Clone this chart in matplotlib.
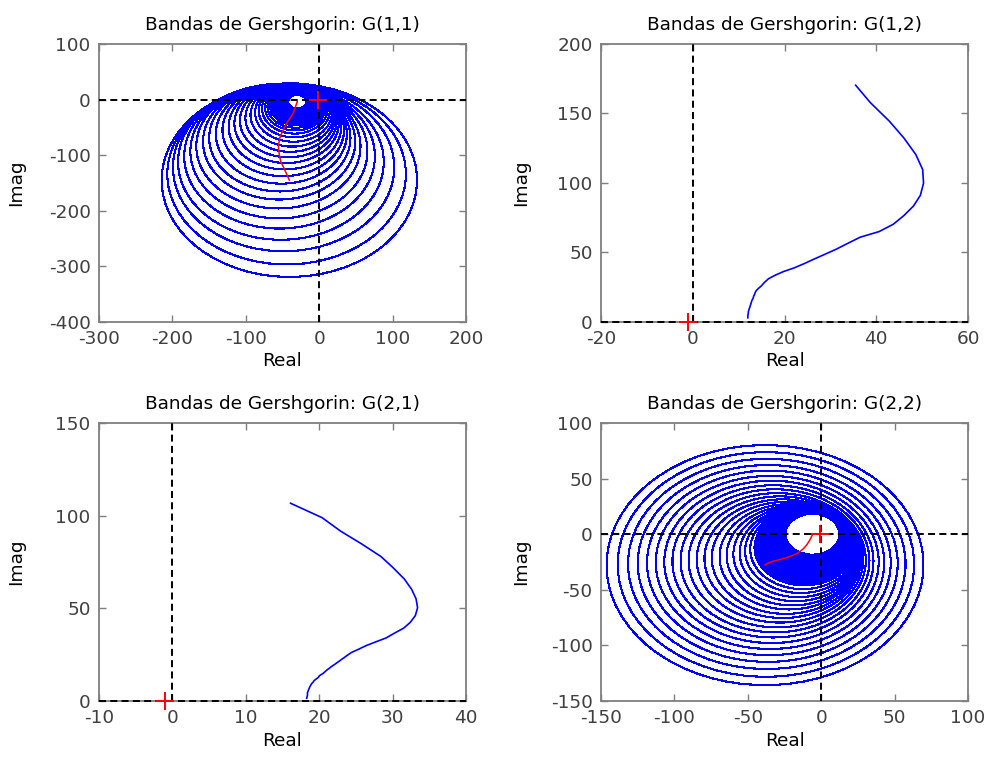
import numpy as np
import matplotlib.pyplot as plt
from matplotlib.patches import Circle

plt.rcParams['font.family'] = 'DejaVu Sans'
plt.rcParams['axes.unicode_minus'] = False

# Nyquist points (same frequency index within each pair)
# pair 1: g11 (circle centres, red) and g12 (radius = |g12|)
g11_re = [-29.9, -29.9, -30.0, -30.0, -30.0, -30.0, -30.1, -30.1, -30.2, -30.2, -30.3,
          -30.3, -30.4, -30.5, -30.6, -30.6, -30.7, -30.8, -30.9, -31.0, -31.2, -31.5,
          -31.8, -32.2, -32.6, -33.2, -34.0, -35.0, -37.0, -39.5, -42.0, -44.5, -46.7,
          -49.0, -51.6, -53.7, -54.6, -55.6, -54.9, -54.0, -52.2, -48.5, -44.4, -40.7]
g11_im = [-3.8, -3.9, -4.0, -4.1, -4.2, -4.4, -4.5, -4.6, -4.8, -5.0, -5.2,
          -5.4, -5.7, -6.0, -6.3, -6.6, -7.0, -7.4, -7.8, -8.2, -8.7, -9.8,
          -11.0, -12.5, -14.2, -16.5, -19.5, -23.5, -28.0, -33.0, -38.0, -43.0, -49.0,
          -55.0, -62.0, -69.0, -76.0, -84.0, -93.0, -102.0, -112.0, -122.0, -134.0, -145.0]
g12_re = [12.0, 12.0, 12.1, 12.1, 12.2, 12.3, 12.4, 12.5, 12.6, 12.7, 12.8,
          12.9, 13.1, 13.2, 13.3, 13.5, 13.6, 13.8, 14.1, 14.5, 14.9, 15.6,
          16.5, 18.0, 19.8, 22.1, 24.3, 26.4, 28.8, 31.3, 33.8, 36.5, 40.6,
          43.7, 46.0, 48.1, 49.6, 50.3, 50.1, 48.6, 46.0, 42.8, 38.7, 35.5]
g12_im = [3.0, 4.9, 6.0, 7.2, 8.4, 9.4, 10.4, 11.4, 12.4, 13.5, 14.6,
          15.6, 16.7, 17.7, 18.9, 20.0, 21.2, 22.4, 23.5, 24.7, 25.8, 28.4,
          31.1, 33.7, 36.3, 38.9, 42.0, 45.2, 48.7, 52.4, 56.6, 61.0, 65.0,
          70.3, 76.5, 83.4, 91.1, 99.9, 109.7, 120.5, 132.4, 144.6, 157.8, 170.3]

# pair 2: g22 (circle centres, red) and g21 (radius = |g21|)
g22_re = [-6.0, -6.1, -6.1, -6.2, -6.2, -6.3, -6.4, -6.5, -6.6, -6.7, -6.8, -6.9,
          -7.0, -7.2, -7.3, -7.4, -7.6, -7.8, -8.1, -8.3, -8.5, -8.8, -9.1, -9.4,
          -9.7, -10.1, -10.5, -11.0, -11.5, -12.6, -14.1, -15.7, -17.6, -19.7, -21.9, -24.2,
          -26.2, -28.1, -30.0, -31.5, -32.9, -33.9, -34.9, -35.7, -36.5, -37.1, -37.7, -38.3]
g22_im = [0.0, -0.2, -0.5, -0.7, -1.0, -1.3, -1.5, -1.8, -2.0, -2.4, -2.6, -3.0,
          -3.3, -3.6, -4.0, -4.3, -4.8, -5.3, -5.8, -6.3, -6.8, -7.4, -8.0, -8.6,
          -9.3, -9.9, -10.6, -11.3, -12.1, -13.6, -15.1, -16.7, -18.0, -19.3, -20.3, -21.3,
          -22.0, -22.7, -23.4, -23.9, -24.4, -24.9, -25.4, -25.8, -26.3, -26.7, -27.2, -27.8]
g21_re = [18.3, 18.4, 18.4, 18.5, 18.6, 18.7, 18.8, 18.9, 19.0, 19.2, 19.3, 19.5,
          19.7, 19.9, 20.0, 20.2, 20.5, 20.7, 20.9, 21.1, 21.4, 21.6, 21.9, 22.2,
          22.5, 22.8, 23.1, 23.4, 23.7, 24.4, 25.4, 26.4, 27.7, 29.1, 30.2, 31.5,
          32.4, 33.1, 33.4, 33.2, 32.6, 31.6, 30.1, 28.4, 25.8, 22.9, 20.4, 16.1]
g21_im = [1.5, 3.1, 4.5, 5.5, 6.5, 7.5, 8.2, 8.9, 9.5, 10.3, 11.0, 11.6,
          12.2, 12.8, 13.5, 14.1, 14.8, 15.5, 16.2, 16.9, 17.7, 18.4, 19.2, 20.0,
          20.9, 21.7, 22.6, 23.4, 24.3, 26.2, 28.0, 29.9, 31.9, 34.0, 36.5, 39.3,
          42.4, 46.1, 50.3, 55.1, 60.2, 65.8, 71.8, 78.0, 84.7, 91.7, 98.9, 106.7]

titles = ['Bandas de Gershgorin: G(1,1)', 'Bandas de Gershgorin: G(1,2)',
          'Bandas de Gershgorin: G(2,1)', 'Bandas de Gershgorin: G(2,2)']
xlims = [(-300, 200), (-20, 60), (-10, 40), (-150, 100)]
ylims = [(-400, 100), (0, 200), (0, 150), (-150, 100)]
xsteps = [100, 20, 10, 50]
ysteps = [100, 50, 50, 50]

fig = plt.figure(figsize=(9.85, 7.59), dpi=100)
boxes = [[0.1005, 0.5758, 0.3726, 0.3663], [0.6102, 0.5758, 0.3726, 0.3663],
         [0.1005, 0.0764, 0.3726, 0.3663], [0.6102, 0.0764, 0.3726, 0.3663]]
axes = [fig.add_axes(b) for b in boxes]

# diagonal elements: Gershgorin circles around the Nyquist curve
r1 = np.hypot(g12_re, g12_im)
r2 = np.hypot(g21_re, g21_im)
for ax, cre, cim, rad in [(axes[0], g11_re, g11_im, r1), (axes[3], g22_re, g22_im, r2)]:
    for x, y, r in zip(cre, cim, rad):
        ax.add_patch(Circle((x, y), r, fill=False, ec='#0000ff', lw=0.8,
                            antialiased=False, zorder=2))
    ax.plot(cre, cim, color='#ff0000', lw=1.1, zorder=4)

# off-diagonal elements: plain Nyquist curves
axes[1].plot(g12_re, g12_im, color='#0000ff', lw=1.2, zorder=2)
axes[2].plot(g21_re, g21_im, color='#0000ff', lw=1.2, zorder=2)

for i, ax in enumerate(axes):
    ax.set_xlim(xlims[i])
    ax.set_ylim(ylims[i])
    ax.set_xticks(np.arange(xlims[i][0], xlims[i][1] + 1, xsteps[i]))
    ax.set_yticks(np.arange(ylims[i][0], ylims[i][1] + 1, ysteps[i]))
    ax.axhline(0, color='k', lw=1.4, linestyle=(0, (3.6, 2.2)), zorder=3, clip_on=False)
    ax.axvline(0, color='k', lw=1.4, linestyle=(0, (3.6, 2.2)), zorder=3)
    ax.plot([-1], [0], marker='+', color='#ff0000', ms=13, mew=1.4, zorder=5, clip_on=False)
    ax.set_title(titles[i], fontsize=13.3, pad=10)
    ax.set_xlabel('Real', fontsize=13.3, labelpad=3)
    ax.set_ylabel('Imag', fontsize=13.3)
    ax.yaxis.set_label_coords(-0.2 if i % 2 == 0 else -0.193, 0.5)
    ax.tick_params(direction='in', length=5, width=1, colors='#7f7f7f',
                   labelcolor='#404040', labelsize=13.3, pad=6,
                   top=True, right=True)
    for s in ax.spines.values():
        s.set_color('#7f7f7f')
        s.set_linewidth(1.3)

fig.savefig('out.png', dpi=100)
